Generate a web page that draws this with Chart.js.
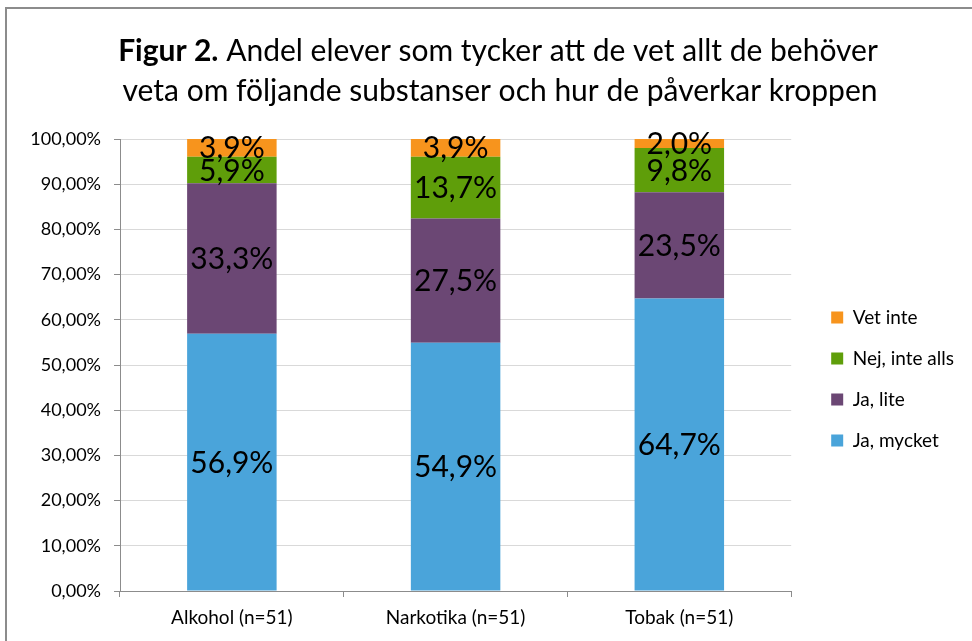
<!DOCTYPE html>
<html>
<head>
<meta charset="utf-8">
<script src="https://cdn.jsdelivr.net/npm/chart.js@4.4.1/dist/chart.umd.min.js"></script>
<style>
  html, body { margin: 0; padding: 0; background: #fff; overflow: hidden; }
  #wrap { position: relative; width: 972px; height: 641px; }
  #frame { position: absolute; left: 5px; top: 7px; width: 1000px; height: 700px;
           border-left: 2px solid #8c8c8c; border-top: 2px solid #8c8c8c; }
  canvas { position: absolute; left: 0; top: 0; }
</style>
</head>
<body>
<div id="wrap">
  <div id="frame"></div>
  <canvas id="chart" width="972" height="641"></canvas>
</div>
<script>
const FONT = "Lato, 'Open Sans', sans-serif";

const categories = ["Alkohol (n=51)", "Narkotika (n=51)", "Tobak (n=51)"];
const jaMycket = [56.9, 54.9, 64.7];
const jaLite = [33.3, 27.5, 23.5];
const nejInteAlls = [5.9, 13.7, 9.8];
const vetInte = [3.9, 3.9, 2.0];
const yTicks = [0, 10, 20, 30, 40, 50, 60, 70, 80, 90, 100];

const titleLine1Bold = "Figur 2.";
const titleLine1 = " Andel elever som tycker att de vet allt de behöver";
const titleLine2 = "veta om följande substanser och hur de påverkar kroppen";

const pct = v => v.toFixed(1).replace(".", ",") + "%";

// title with a bold prefix, drawn in the top padding
const titlePlugin = {
  id: "figTitle",
  afterDraw(chart) {
    const ctx = chart.ctx;
    ctx.save();
    ctx.fillStyle = "#000";
    ctx.textBaseline = "alphabetic";
    const size = 30;
    ctx.font = "bold " + size + "px " + FONT;
    const wb = ctx.measureText(titleLine1Bold).width;
    ctx.font = size + "px " + FONT;
    const wr = ctx.measureText(titleLine1).width;
    const x = 498 - (wb + wr) / 2;
    ctx.font = "bold " + size + "px " + FONT;
    ctx.fillText(titleLine1Bold, x, 61);
    ctx.font = size + "px " + FONT;
    ctx.fillText(titleLine1, x + wb, 61);
    ctx.textAlign = "center";
    ctx.fillText(titleLine2, 500, 101);
    ctx.restore();
  }
};

// value labels centred in each stacked segment
const labelPlugin = {
  id: "segLabels",
  afterDatasetsDraw(chart) {
    const ctx = chart.ctx;
    ctx.save();
    ctx.fillStyle = "#000";
    ctx.font = "30px " + FONT;
    ctx.textAlign = "center";
    ctx.textBaseline = "middle";
    chart.data.datasets.forEach((ds, i) => {
      chart.getDatasetMeta(i).data.forEach((bar, j) => {
        const p = bar.getCenterPoint();
        ctx.fillText(pct(ds.data[j]), p.x, p.y + 1);
      });
    });
    ctx.restore();
  }
};

new Chart(document.getElementById("chart"), {
  type: "bar",
  data: {
    labels: categories,
    datasets: [
      { label: "Ja, mycket", data: jaMycket, backgroundColor: "#4aa4da" },
      { label: "Ja, lite", data: jaLite, backgroundColor: "#6b4774" },
      { label: "Nej, inte alls", data: nejInteAlls, backgroundColor: "#5f9e0a" },
      { label: "Vet inte", data: vetInte, backgroundColor: "#f7941d" },
    ],
  },
  options: {
    responsive: false,
    animation: false,
    datasets: { bar: { categoryPercentage: 1, barPercentage: 0.4 } },
    layout: { padding: { top: 139, left: 10, right: 8, bottom: 0 } },
    scales: {
      x: {
        stacked: true,
        afterFit: s => { s.height = 50; },
        grid: { offset: true, drawOnChartArea: false, color: "#8c8c8c", tickLength: 6 },
        border: { color: "#8c8c8c" },
        ticks: { color: "#000", font: { family: FONT, size: 19 }, padding: 9 },
      },
      y: {
        stacked: true,
        min: 0,
        max: 100,
        afterFit: s => { s.width = 110; },
        afterBuildTicks: scale => { scale.ticks = yTicks.map(v => ({ value: v })); },
        grid: { color: "#d9d9d9", tickLength: 6, tickColor: "#8c8c8c" },
        border: { color: "#8c8c8c" },
        ticks: {
          color: "#000",
          font: { family: FONT, size: 18 },
          padding: 13,
          callback: v => v.toFixed(2).replace(".", ",") + "%",
        },
      },
      // empty spacer between the plot and the legend
      gap: {
        position: "right",
        afterFit: s => { s.width = 18; },
        grid: { display: false },
        border: { display: false },
        ticks: { display: false },
      },
    },
    plugins: {
      title: { display: false },
      tooltip: { enabled: false },
      legend: {
        position: "right",
        fullSize: false,
        reverse: true,
        // blank title only nudges the items down a little
        title: { display: true, text: " ", padding: 8, font: { size: 10 } },
        labels: {
          color: "#000",
          boxWidth: 12,
          boxHeight: 12,
          padding: 22,
          font: { family: FONT, size: 19 },
        },
      },
    },
  },
  plugins: [titlePlugin, labelPlugin],
});
</script>
</body>
</html>
